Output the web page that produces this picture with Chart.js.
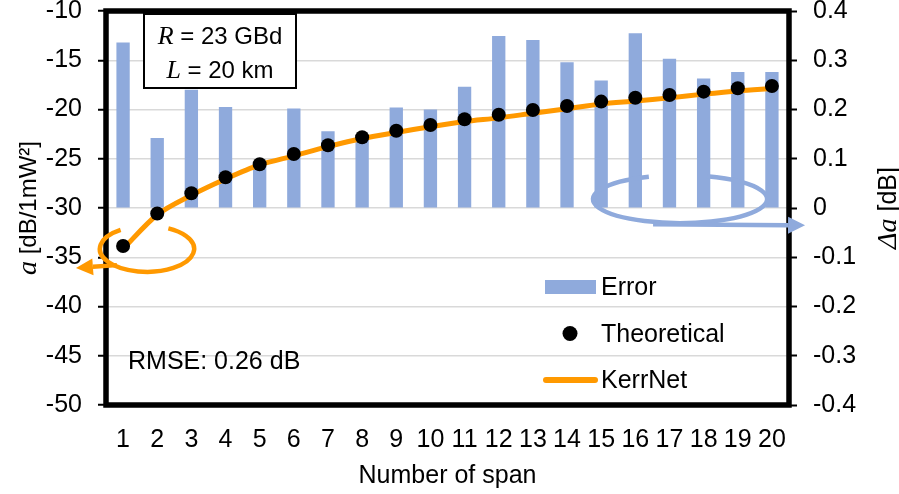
<!DOCTYPE html>
<html>
<head>
<meta charset="utf-8">
<title>KerrNet vs theoretical</title>
<script src="https://cdn.jsdelivr.net/npm/chart.js@4.4.0/dist/chart.umd.min.js"></script>
<style>
  html, body { margin: 0; padding: 0; background: #fff; }
  #wrap { width: 899px; height: 494px; }
</style>
</head>
<body>
<div id="wrap"><canvas id="chart" width="899" height="494"></canvas></div>
<script>
// number of spans on the x axis
const spans = ['1', '2', '3', '4', '5', '6', '7', '8', '9', '10',
               '11', '12', '13', '14', '15', '16', '17', '18', '19', '20'];

// a [dB/1mW²], left axis
const theoretical = [-33.86, -30.56, -28.51, -26.88, -25.56, -24.52, -23.63, -22.82, -22.15, -21.57,
                     -20.99, -20.53, -20.05, -19.64, -19.20, -18.80, -18.53, -18.19, -17.85, -17.61];
const kerrNet = [-34.15, -30.68, -28.70, -27.05, -25.62, -24.70, -23.77, -22.95, -22.33, -21.75,
                 -21.22, -20.85, -20.38, -19.92, -19.44, -19.14, -18.82, -18.44, -18.11, -17.88];

// Δa [dB], right axis
const errorDb = [0.336, 0.142, 0.240, 0.205, 0.085, 0.202, 0.156, 0.148, 0.204, 0.200,
                 0.246, 0.349, 0.341, 0.296, 0.259, 0.355, 0.303, 0.263, 0.276, 0.276];

const leftRange = { min: -50, max: -10, step: 5 };
const rightRange = { min: -0.4, max: 0.4, step: 0.1 };

const BLUE = '#8FAADC';
const ORANGE = '#FF9900';
const SANS = '"Liberation Sans", Arial, sans-serif';
const SERIF = '"Liberation Serif", "Times New Roman", serif';

Chart.defaults.font.family = SANS;
Chart.defaults.font.size = 25;
Chart.defaults.color = '#000';

// draws a run of [text, font] pieces centred on x
function mixedText(ctx, parts, x, y) {
  let total = 0;
  parts.forEach(p => { ctx.font = p[1]; total += ctx.measureText(p[0]).width; });
  let cx = x - total / 2;
  ctx.textAlign = 'left';
  parts.forEach(p => {
    ctx.font = p[1];
    ctx.fillText(p[0], cx, y);
    cx += ctx.measureText(p[0]).width;
  });
}

function arrow(ctx, x0, y0, x1, y1, color) {
  const ang = Math.atan2(y1 - y0, x1 - x0);
  const len = 17, half = 8.5;
  const bx = x1 - len * Math.cos(ang), by = y1 - len * Math.sin(ang);
  ctx.strokeStyle = color;
  ctx.fillStyle = color;
  ctx.lineWidth = 4.5;
  ctx.beginPath();
  ctx.moveTo(x0, y0);
  ctx.lineTo(bx, by);
  ctx.stroke();
  ctx.beginPath();
  ctx.moveTo(x1, y1);
  ctx.lineTo(bx - half * Math.sin(ang), by + half * Math.cos(ang));
  ctx.lineTo(bx + half * Math.sin(ang), by - half * Math.cos(ang));
  ctx.closePath();
  ctx.fill();
}

const deg = d => d * Math.PI / 180;

// y scales: fixed width, and no extra room for the end labels
const fitY = w => s => {
  s.width = w;
  s.paddingTop = 0;
  s.paddingBottom = 0;
};

// frame, inset notes, legend, axis titles and the two pointer ellipses
const decorations = {
  id: 'decorations',
  afterDatasetsDraw(chart) {
    const { ctx, chartArea: a, scales } = chart;
    const x = scales.x, yL = scales.y, yR = scales.y1;
    const step = x.getPixelForValue(1) - x.getPixelForValue(0);
    const xAt = i => x.getPixelForValue(0) + i * step;

    ctx.save();

    // plot frame
    ctx.strokeStyle = '#000';
    ctx.lineWidth = 5.5;
    ctx.strokeRect(a.left, a.top, a.right - a.left, a.bottom - a.top);

    // orange ring pointing to the left axis
    ctx.lineCap = 'butt';
    ctx.strokeStyle = ORANGE;
    ctx.lineWidth = 4.5;
    ctx.beginPath();
    ctx.ellipse(xAt(0.7), yL.getPixelForValue(-34.15), 1.38 * step, 23, 0, deg(236), deg(-63), true);
    ctx.stroke();
    arrow(ctx, xAt(-0.18), yL.getPixelForValue(-35.8), xAt(-1.38), yL.getPixelForValue(-36.1), ORANGE);

    // blue ring pointing to the right axis
    ctx.strokeStyle = BLUE;
    ctx.lineWidth = 4.5;
    ctx.beginPath();
    ctx.ellipse(xAt(16.31), yR.getPixelForValue(0.018), 2.55 * step, 24, 0, deg(249), deg(-72), true);
    ctx.stroke();
    arrow(ctx, xAt(15.52), yR.getPixelForValue(-0.033), xAt(19.97), yR.getPixelForValue(-0.035), BLUE);

    // parameter box
    const bx = a.left + 38, by = a.top + 3, bw = 152, bh = 74;
    ctx.fillStyle = '#fff';
    ctx.fillRect(bx, by, bw, bh);
    ctx.strokeStyle = '#000';
    ctx.lineWidth = 2;
    ctx.strokeRect(bx, by, bw, bh);
    ctx.fillStyle = '#000';
    ctx.textBaseline = 'alphabetic';
    mixedText(ctx, [['R', 'italic 26px ' + SERIF], [' = 23 GBd', '24px ' + SANS]], bx + bw / 2, by + 30);
    mixedText(ctx, [['L', 'italic 26px ' + SERIF], [' = 20 km', '24px ' + SANS]], bx + bw / 2, by + 64);

    // RMSE note
    ctx.font = '25px ' + SANS;
    ctx.textAlign = 'left';
    ctx.fillText('RMSE: 0.26 dB', a.left + 22, 369);

    // legend
    const lx = 543, tx = 601;
    ctx.fillStyle = BLUE;
    ctx.fillRect(lx + 2, 280, 51, 14);
    ctx.fillStyle = '#000';
    ctx.beginPath();
    ctx.arc(570, 333.5, 7.5, 0, Math.PI * 2);
    ctx.fill();
    ctx.strokeStyle = ORANGE;
    ctx.lineWidth = 6;
    ctx.lineCap = 'round';
    ctx.beginPath();
    ctx.moveTo(lx + 3, 380);
    ctx.lineTo(lx + 52, 380);
    ctx.stroke();
    ctx.lineCap = 'butt';
    ctx.font = '25px ' + SANS;
    ctx.fillText('Error', tx, 295);
    ctx.fillText('Theoretical', tx, 342);
    ctx.fillText('KerrNet', tx, 388);

    // axis titles
    const midY = (a.top + a.bottom) / 2;
    ctx.save();
    ctx.translate(36, midY);
    ctx.rotate(-Math.PI / 2);
    mixedText(ctx, [['a', 'italic 28px ' + SERIF], [' [dB/1mW²]', '24px ' + SANS]], 0, 0);
    ctx.restore();

    ctx.save();
    ctx.translate(896, midY);
    ctx.rotate(-Math.PI / 2);
    mixedText(ctx, [['Δa', 'italic 28px ' + SERIF], [' [dB]', '25px ' + SANS]], 0, 0);
    ctx.restore();

    ctx.font = '25px ' + SANS;
    ctx.textAlign = 'center';
    ctx.fillText('Number of span', (a.left + a.right) / 2, 483);

    ctx.restore();
  }
};

new Chart(document.getElementById('chart'), {
  type: 'bar',
  data: {
    labels: spans,
    datasets: [
      {
        type: 'line',
        label: 'Theoretical',
        data: theoretical,
        yAxisID: 'y',
        showLine: false,
        pointRadius: 7,
        pointBackgroundColor: '#000',
        pointBorderWidth: 0,
        order: 0
      },
      {
        type: 'line',
        label: 'KerrNet',
        data: kerrNet,
        yAxisID: 'y',
        borderColor: ORANGE,
        borderWidth: 5,
        pointRadius: 0,
        tension: 0.3,
        fill: false,
        order: 1
      },
      {
        type: 'bar',
        label: 'Error',
        data: errorDb,
        yAxisID: 'y1',
        backgroundColor: BLUE,
        categoryPercentage: 1,
        barPercentage: 0.39,
        order: 2
      }
    ]
  },
  options: {
    responsive: false,
    animation: false,
    devicePixelRatio: 1,
    layout: { padding: { top: 11, left: 0, right: 0, bottom: 0 } },
    plugins: {
      legend: { display: false },
      tooltip: { enabled: false }
    },
    scales: {
      x: {
        offset: true,
        grid: { display: false, drawTicks: false },
        border: { display: false },
        ticks: { padding: 20, maxRotation: 0, autoSkip: false, font: { size: 25 } },
        afterFit: s => { s.height = 89; s.paddingLeft = 0; s.paddingRight = 0; }
      },
      y: {
        position: 'left',
        min: leftRange.min,
        max: leftRange.max,
        grid: { color: '#d9d9d9', lineWidth: 1.5, tickColor: '#000', tickWidth: 2, tickLength: 8 },
        border: { display: false },
        ticks: { stepSize: leftRange.step, padding: 16, font: { size: 25 } },
        afterFit: fitY(106)
      },
      y1: {
        position: 'right',
        min: rightRange.min,
        max: rightRange.max,
        grid: { drawOnChartArea: false, tickColor: '#000', tickWidth: 2, tickLength: 8 },
        border: { display: false },
        ticks: {
          stepSize: rightRange.step,
          padding: 16,
          font: { size: 25 },
          callback: v => String(Math.round(v * 10) / 10)
        },
        afterFit: fitY(110)
      }
    }
  },
  plugins: [decorations]
});
</script>
</body>
</html>
